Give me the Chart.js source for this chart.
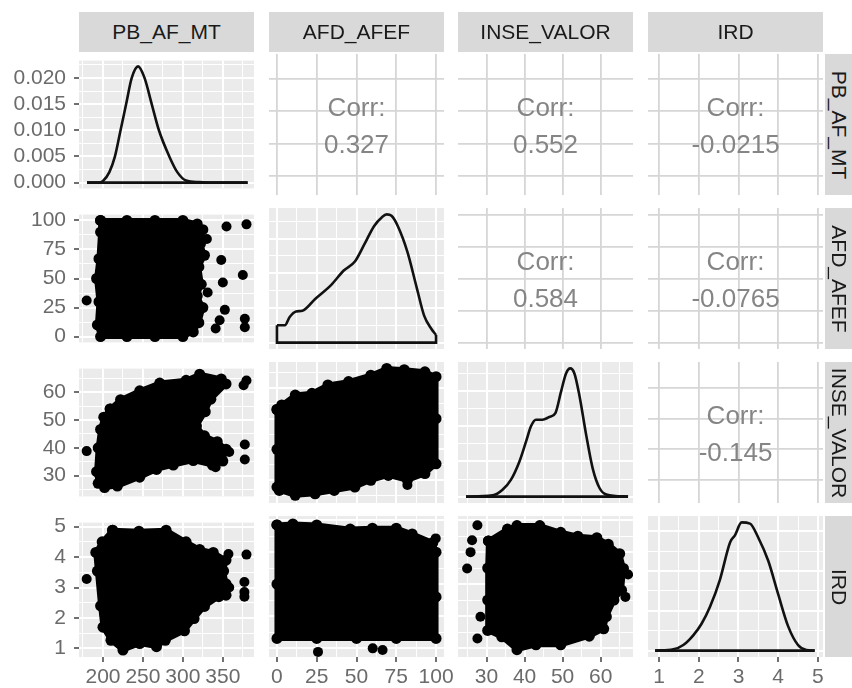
<!DOCTYPE html>
<html>
<head>
<meta charset="utf-8">
<script src="https://cdn.jsdelivr.net/npm/chart.js@4.4.0/dist/chart.umd.min.js"></script>
<style>
  body { margin: 0; background: #fff; font-family: "Liberation Sans", Arial, sans-serif; }
  #wrap { position: relative; width: 852px; height: 688px; overflow: hidden; }
  #wrap canvas, .strip, .corr { position: absolute; }
  .strip { background: #d9d9d9; color: #1a1a1a; font-size: 21px; display: flex; align-items: center; justify-content: center; overflow: hidden; }
  .strip.side span { transform: rotate(90deg); white-space: nowrap; }
  .corr { color: #858585; font-size: 26px; line-height: 37px; display: flex; flex-direction: column; align-items: center; justify-content: center; padding-top: 2px; box-sizing: border-box; }
</style>
</head>
<body>
<div id="wrap"></div>
<script>
// variables of the matrix
const varNames = ['PB_AF_MT', 'AFD_AFEF', 'INSE_VALOR', 'IRD'];
const varRanges = [[170, 389], [-5, 105], [22.5, 68.5], [0.72, 5.13]];
const varBreaks = [[200, 250, 300, 350], [0, 25, 50, 75, 100], [30, 40, 50, 60], [1, 2, 3, 4, 5]];
const densBreaks = [[0, 0.005, 0.01, 0.015, 0.02], [0, 0.005, 0.01, 0.015], [0, 0.02, 0.04, 0.06], [0, 0.2, 0.4, 0.6]];

// upper triangle correlations
const corrValues = [
  [null, '0.327', '0.552', '-0.0215'],
  [null, null, '0.584', '-0.0765'],
  [null, null, null, '-0.145']
];

// diagonal densities
const pbDensX = [180, 195, 200, 208, 215, 222, 229, 236, 244, 252, 261, 270, 283, 293, 304, 320, 340, 381];
const pbDensY = [0, 0, 0.0003, 0.002, 0.005, 0.010, 0.015, 0.020, 0.0222, 0.020, 0.015, 0.010, 0.005, 0.002, 0.0004, 0.0001, 0, 0];
const afdDensX = [0, 5, 8, 12, 16, 24, 34, 42, 49, 55, 61, 66, 69, 72, 76, 82, 88, 92.5, 97, 100];
const afdDensY = [0.0025, 0.0025, 0.0037, 0.0045, 0.0046, 0.0063, 0.0083, 0.0104, 0.0117, 0.0142, 0.0168, 0.0181, 0.0185, 0.0183, 0.0168, 0.0131, 0.0078, 0.0039, 0.002, 0.0011];
const inseDensX = [24.6, 31.6, 34.2, 36.4, 38.6, 40.4, 41.7, 43.0, 44.7, 46.5, 48.1, 49.6, 50.9, 52.0, 53.1, 54.4, 56.2, 57.9, 59.7, 61.5, 67.2];
const inseDensY = [0, 0.0007, 0.0039, 0.0095, 0.0197, 0.0314, 0.0402, 0.0438, 0.0438, 0.0453, 0.0475, 0.0599, 0.0701, 0.073, 0.0701, 0.0577, 0.035, 0.0161, 0.0049, 0.0012, 0];
const irdDensX = [0.9, 1.36, 1.61, 1.86, 2.07, 2.28, 2.53, 2.79, 2.91, 3.08, 3.29, 3.50, 3.75, 4.0, 4.25, 4.5, 4.71, 4.92];
const irdDensY = [0, 0.0065, 0.028, 0.077, 0.135, 0.219, 0.355, 0.545, 0.58, 0.645, 0.639, 0.568, 0.452, 0.284, 0.123, 0.028, 0.003, 0];

// scatter clouds: outline of the dense point mass + stray points
const blobPbAfd = [[197,100],[230,100],[265,100],[300,100],[318,97],[325,92],[322,80],[327,70],[320,60],[323,45],[318,35],[325,25],[320,12],[313,4],[300,0],[265,0],[230,0],[197,0],[193,10],[195,30],[192,50],[195,67],[197,90]];
const outPbAfd = [[179.6,31],[354.6,94.8],[348,66],[350,46.6],[352.5,23],[346,14],[341,7],[379.6,96.6],[375,53],[377.5,15.4],[377.5,8],[330,84],[331,38]];
const blobPbInse = [[209,54],[222,57.3],[246,60.5],[271,63.3],[304,64.3],[321,66.5],[348,64.8],[354,63],[335,57.5],[328,53],[317,47.8],[327,44.3],[343,42.2],[354,39.5],[350,35.2],[337,33.8],[313,35.4],[288,33.8],[267,32.2],[246,29.4],[218,26.2],[202,25.7],[194,27.2],[192,31.4],[194,40],[197,46.6],[201,51]];
const outPbInse = [[179.6,38.8],[379.6,64.2],[376,62.5],[377.5,41.2],[377.5,35.8],[358,38.5],[341,33]];
const blobPbIrd = [[212,4.88],[245,4.85],[279,4.88],[304,4.5],[321,4.25],[338,4.15],[354,3.9],[351,3.54],[354,3.12],[354,2.75],[345,2.7],[327,2.38],[314,1.98],[302,1.58],[278,1.27],[267,1.06],[246,1.16],[225,0.95],[210,1.27],[200,1.7],[197,2.4],[193,3.54],[191,4.15],[199,4.5]];
const outPbIrd = [[179.6,3.28],[379.6,4.08],[377,3.18],[377,2.85],[377,2.7],[358,3.0],[357,4.1]];
const blobAfdInse = [[0,53],[3,54.5],[11.5,57.7],[22,58.3],[32,61],[45,62.1],[59,64.2],[69,66.4],[80,66],[93,65.3],[100,63.7],[100,50],[100,35.3],[93,32.1],[82,29.9],[70,31.5],[59,29.9],[49,27.7],[36,26.6],[24,25.5],[11.5,25],[1.5,26.6],[0,27.7],[0,40]];
const outAfdInse = [[82,28.4]];
const blobAfdIrd = [[0,4.85],[10,4.88],[25,4.85],[46,4.72],[60,4.75],[75,4.75],[85,4.57],[98,4.3],[100,4.0],[100,2.6],[100,1.3],[75,1.3],[50,1.3],[25,1.3],[0,1.3],[0,3.0]];
const outAfdIrd = [[25.8,0.88],[60.2,0.99],[66.4,0.94],[99.8,4.43]];
const blobInseIrd = [[30.5,4.35],[35.5,4.72],[38,4.83],[44,4.83],[49.5,4.62],[54,4.5],[59,4.45],[62,4.25],[65,3.95],[66,3.49],[65.5,2.81],[63.5,2.5],[61.5,1.98],[60.8,1.6],[57,1.37],[49.5,1.1],[43,1.1],[38,0.95],[34,1.35],[30.3,1.55],[30.3,2.5],[30.3,3.5]];
const outInseIrd = [[27.6,4.84],[26.2,4.37],[25.8,4.0],[24.9,3.49],[27.6,1.3],[28.4,1.98],[67.2,3.3],[66.5,2.6]];

const densities = [[pbDensX, pbDensY], [afdDensX, afdDensY], [inseDensX, inseDensY], [irdDensX, irdDensY]];
const clouds = {
  '1,0': [blobPbAfd, outPbAfd],
  '2,0': [blobPbInse, outPbInse],
  '3,0': [blobPbIrd, outPbIrd],
  '2,1': [blobAfdInse, outAfdInse],
  '3,1': [blobAfdIrd, outAfdIrd],
  '3,2': [blobInseIrd, outInseIrd]
};

// layout
const colLeft = [79, 269, 458, 648], rowTop = [54, 208, 362, 516];
const panelW = 175, panelH = 141, pad = 14, figH = 688;
const wrap = document.getElementById('wrap');

Chart.defaults.font.family = '"Liberation Sans", Arial, sans-serif';

const panelBg = {
  id: 'panelBg',
  beforeDraw(chart, args, opts) {
    const a = chart.chartArea, ctx = chart.ctx;
    ctx.save();
    ctx.fillStyle = opts.color;
    ctx.fillRect(a.left, a.top, a.right - a.left, a.bottom - a.top);
    ctx.restore();
  }
};

function tickList(brk, range, minor) {
  const step = brk[1] - brk[0];
  const ticks = brk.map(v => ({ value: v, major: true }));
  if (minor) {
    for (let i = -1; i < brk.length; i++) {
      ticks.push({ value: brk[0] + (i + 0.5) * step, major: false });
    }
  }
  return ticks.filter(t => t.value > range[0] && t.value < range[1]).sort((a, b) => a.value - b.value);
}

function axis(dir, range, brk, o) {
  return {
    type: 'linear', min: range[0], max: range[1],
    afterBuildTicks: s => { s.ticks = tickList(brk, range, o.minor); },
    afterFit: s => { if (dir === 'x') s.height = o.size; else s.width = o.size; },
    border: { display: false },
    grid: {
      color: c => (c.tick && c.tick.major) ? o.lineColor : '#fff',
      lineWidth: c => (c.tick && c.tick.major) ? o.lineW : 1,
      drawTicks: o.size > 0, tickLength: 5, tickWidth: 1.6,
      tickColor: c => (c.tick && c.tick.major) ? '#4d4d4d' : 'rgba(0,0,0,0)'
    },
    ticks: {
      display: o.size > 0, autoSkip: false, maxRotation: 0, minRotation: 0,
      padding: dir === 'x' ? 3 : 8, color: '#6b6b6b', font: { size: 21 },
      callback: (v, i, t) => t[i].major ? o.fmt(v) : ''
    }
  };
}

const pts = arr => arr.map(p => ({ x: p[0], y: p[1] }));

function addPanel(r, c) {
  const isLeft = c === 0, isBottom = r === 3;
  const x0 = isLeft ? 0 : colLeft[c] - pad;
  const y0 = rowTop[r] - pad;
  const w = colLeft[c] + panelW + pad - x0;
  const h = isBottom ? figH - y0 : panelH + 2 * pad;
  const cv = document.createElement('canvas');
  cv.width = w; cv.height = h;
  cv.style.left = x0 + 'px'; cv.style.top = y0 + 'px';
  wrap.appendChild(cv);

  const upper = r < c;
  const style = upper
    ? { minor: false, lineColor: '#d6d6d6', lineW: 1.8, bg: '#ffffff' }
    : { minor: true, lineColor: '#ffffff', lineW: 2, bg: '#ebebeb' };

  let yRange = varRanges[r], yBrk = varBreaks[r];
  let yFmt = v => String(v);
  const datasets = [];

  if (r === c) {
    const [dx, dy] = densities[c];
    const m = Math.max(...dy);
    yRange = [-0.05 * m, 1.05 * m];
    yBrk = densBreaks[c];
    if (c === 0) yFmt = v => v.toFixed(3);
    datasets.push({
      data: dx.map((x, i) => ({ x: x, y: dy[i] })),
      showLine: true, borderColor: '#111', borderWidth: 2.6, pointRadius: 0,
      cubicInterpolationMode: 'monotone', fill: false, clip: 0
    });
    // closing edges of the density polygon
    const n = dx.length - 1;
    datasets.push({
      data: [{ x: dx[0], y: dy[0] }, { x: dx[0], y: 0 }, { x: dx[n], y: 0 }, { x: dx[n], y: dy[n] }],
      showLine: true, borderColor: '#111', borderWidth: 2.6, pointRadius: 0, tension: 0, fill: false, clip: 0
    });
  } else if (r > c) {
    const [blob, strays] = clouds[r + ',' + c];
    const outline = pts(blob);
    outline.push(outline[0]);
    datasets.push({
      data: outline, showLine: true, fill: 'shape', tension: 0,
      backgroundColor: '#000', borderColor: '#000', borderWidth: 5, borderJoinStyle: 'round',
      pointRadius: 5.5, pointBackgroundColor: '#000', pointBorderWidth: 0, clip: 0
    });
    datasets.push({
      data: pts(strays), showLine: false,
      pointRadius: 5, pointBackgroundColor: '#000', pointBorderWidth: 0, clip: 0
    });
  }

  new Chart(cv, {
    type: 'scatter',
    data: { datasets: datasets },
    options: {
      responsive: false, animation: false, events: [],
      layout: { padding: { left: isLeft ? 0 : pad, right: pad, top: pad, bottom: isBottom ? 0 : pad } },
      plugins: { legend: { display: false }, tooltip: { enabled: false }, panelBg: { color: style.bg } },
      scales: {
        x: axis('x', varRanges[c], varBreaks[c], Object.assign({}, style, { size: isBottom ? figH - (rowTop[3] + panelH) : 0, fmt: v => String(v) })),
        y: axis('y', yRange, yBrk, Object.assign({}, style, { size: isLeft ? colLeft[0] : 0, fmt: yFmt }))
      }
    },
    plugins: [panelBg]
  });

  if (upper) {
    const d = document.createElement('div');
    d.className = 'corr';
    d.style.left = colLeft[c] + 'px'; d.style.top = rowTop[r] + 'px';
    d.style.width = panelW + 'px'; d.style.height = panelH + 'px';
    d.innerHTML = '<div>Corr:</div><div>' + corrValues[r][c] + '</div>';
    wrap.appendChild(d);
  }
}

for (let r = 0; r < 4; r++) {
  for (let c = 0; c < 4; c++) addPanel(r, c);
}

// facet strips
varNames.forEach((name, i) => {
  const top = document.createElement('div');
  top.className = 'strip';
  top.style.left = colLeft[i] + 'px'; top.style.top = '12px';
  top.style.width = panelW + 'px'; top.style.height = '40px';
  top.textContent = name;
  wrap.appendChild(top);

  const side = document.createElement('div');
  side.className = 'strip side';
  side.style.left = '825px'; side.style.top = rowTop[i] + 'px';
  side.style.width = '28px'; side.style.height = panelH + 'px';
  side.innerHTML = '<span>' + name + '</span>';
  wrap.appendChild(side);
});
</script>
</body>
</html>
